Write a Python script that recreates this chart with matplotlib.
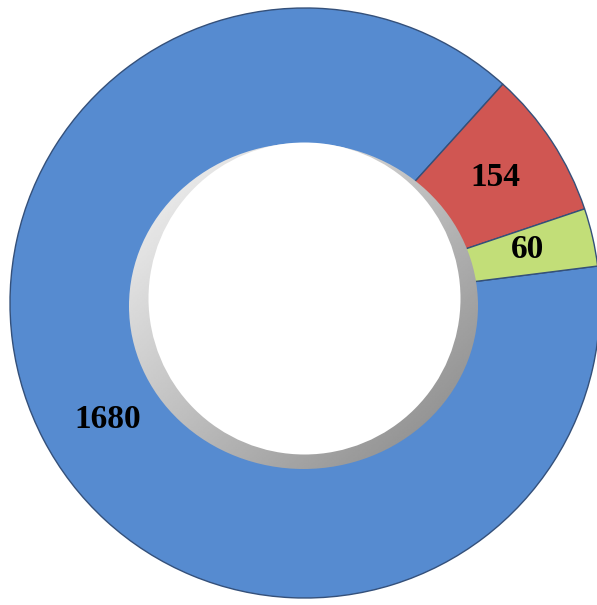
import numpy as np
import matplotlib.pyplot as plt
from matplotlib.patches import Ellipse, Circle

# data
values = [1680, 154, 60]
labels = ["1680", "154", "60"]
colors = ["#568bd0", "#d05652", "#c2de78"]

# label positions in data (pixel) units
label_x = [108, 495, 528]
label_y = [605 - 420, 605 - 177, 605 - 249]

fig = plt.figure(figsize=(5.97, 6.05), dpi=100)
ax = fig.add_axes([0, 0, 1, 1])

cx, cy = 305, 605 - 303
R = 295
ring_w = 138

wedges, _ = ax.pie(values, colors=colors, startangle=7.2, counterclock=False,
                   radius=R, center=(cx, cy), frame=True,
                   wedgeprops=dict(width=ring_w, edgecolor="#34507a", linewidth=1.0))
ax.set_xlim(0, 597)
ax.set_ylim(0, 605)
ax.set_aspect("equal")
ax.axis("off")

# grey shaded rim round the hole, light at top-left, dark at bottom-right
rim = Ellipse((303.5, 605 - 306), 349, 326, facecolor="none", edgecolor="none")
ax.add_patch(rim)
xx, yy = np.meshgrid(np.linspace(0, 1, 200), np.linspace(0, 1, 200))
grad = (xx + yy) / 2   # 0 top-left, 1 bottom-right
shade = 0.97 - 0.45 * grad
im = ax.imshow(shade, cmap="gray", vmin=0, vmax=1, origin="upper",
               extent=(129, 478, 605 - 469, 605 - 143), interpolation="bilinear", zorder=2)
im.set_clip_path(rim)
ax.add_patch(Circle((304.5, 605 - 298.5), 156, color="white", lw=0, zorder=3))

ax.set_xlim(0, 597)
ax.set_ylim(0, 605)

for txt, x, y in zip(labels, label_x, label_y):
    ax.text(x, y, txt, ha="center", va="center", fontsize=24, fontweight="bold",
            family="Liberation Serif", color="black", zorder=5)

plt.savefig("out.png", dpi=100)
